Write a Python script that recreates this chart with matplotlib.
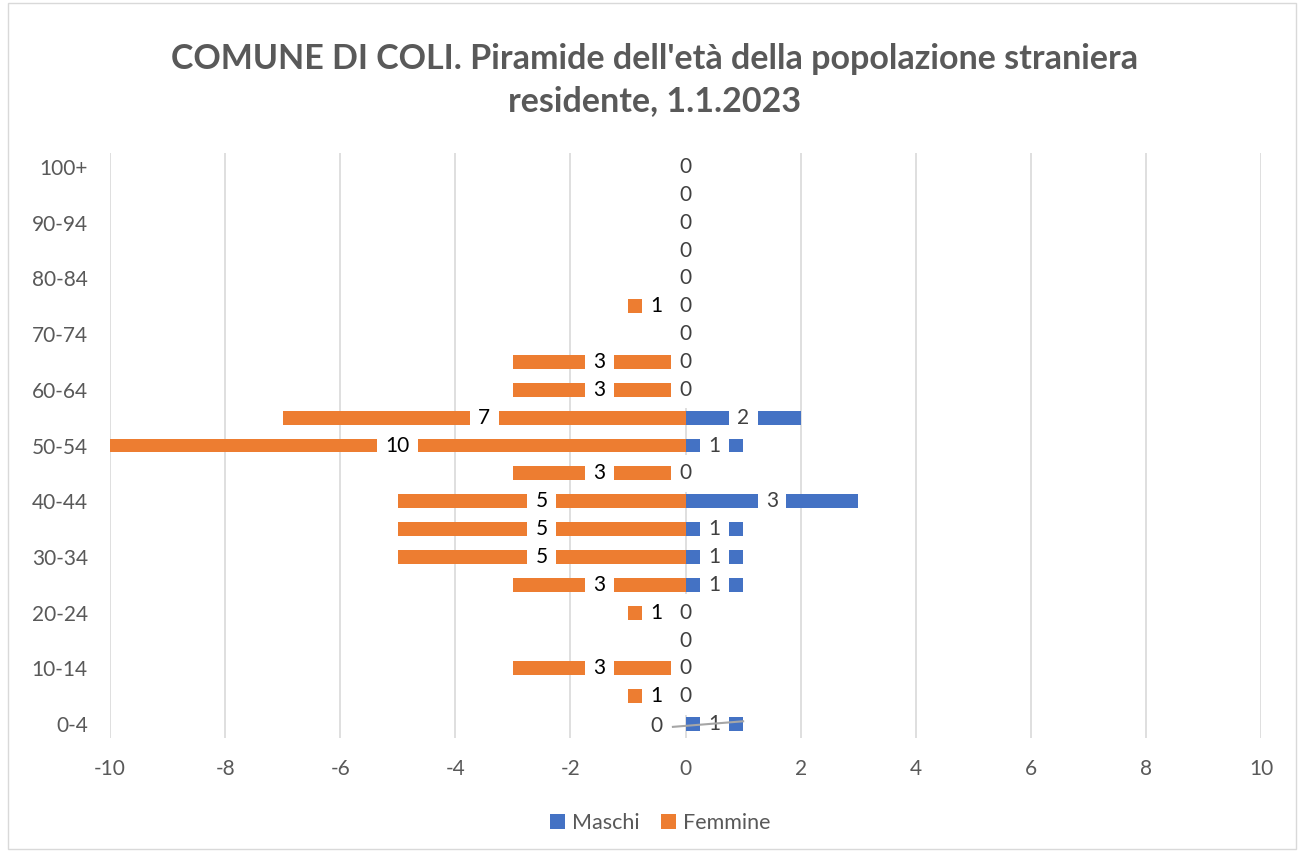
import matplotlib.pyplot as plt
from matplotlib.patches import Rectangle

eta = ['0-4', '5-9', '10-14', '15-19', '20-24', '25-29', '30-34', '35-39',
       '40-44', '45-49', '50-54', '55-59', '60-64', '65-69', '70-74',
       '75-79', '80-84', '85-89', '90-94', '95-99', '100+']
maschi = [1, 0, 0, 0, 0, 1, 1, 1, 3, 0, 1, 2, 0, 0, 0, 0, 0, 0, 0, 0, 0]
femmine = [0, 1, 3, 0, 1, 3, 5, 5, 5, 3, 10, 7, 3, 3, 0, 1, 0, 0, 0, 0, 0]

blu = '#4472C4'
arancio = '#ED7D31'
grigio = '#595959'

plt.rcParams['font.family'] = ['Lato', 'DejaVu Sans']
plt.rcParams['axes.unicode_minus'] = False

fs = 15

fig = plt.figure(figsize=(13.04, 8.52), dpi=100)
ax = fig.add_axes([0.0844, 0.1338, 0.8827, 0.6866])

y = list(range(len(eta)))
ax.barh(y, maschi, height=0.5, color=blu, label='Maschi', zorder=2)
ax.barh(y, [-v for v in femmine], height=0.5, color=arancio, label='Femmine', zorder=2)

box = dict(boxstyle='square,pad=0.4', fc='white', ec='none')
for i in y:
    # etichette maschi
    if maschi[i] == 0:
        ax.text(0, i, '0', ha='center', va='center', fontsize=fs, color='#404040',
                bbox=box, zorder=4)
    else:
        ax.text(maschi[i] / 2, i, str(maschi[i]), ha='center', va='center',
                fontsize=fs, color='#404040', bbox=box, zorder=4)
    # etichette femmine
    if femmine[i] != 0:
        ax.text(-femmine[i] / 2, i, str(femmine[i]), ha='center', va='center',
                fontsize=fs, color='black', bbox=box, zorder=4)

# etichetta 0 femmine spostata con linea guida
ax.plot([-0.22, 1.0], [-0.1, 0.1], color='#A6A6A6', lw=1.5, zorder=5)
ax.text(-0.5, -0.08, '0', ha='center', va='center', fontsize=fs, color='#404040', zorder=5)

ax.set_xlim(-10, 10)
ax.set_ylim(-0.5, 20.5)
ax.set_xticks(range(-10, 11, 2))
ax.set_yticks(y[::2])
ax.set_yticklabels(eta[::2])
ax.tick_params(axis='both', length=0, labelsize=fs, labelcolor=grigio)
ax.tick_params(axis='x', pad=15)
ax.tick_params(axis='y', pad=16)
ax.grid(axis='x', color='#D9D9D9', lw=1.2, zorder=0)
ax.set_axisbelow(True)
for s in ax.spines.values():
    s.set_visible(False)

fig.text(0.502, 0.906, "COMUNE DI COLI. Piramide dell'età della popolazione straniera\nresidente, 1.1.2023",
         ha='center', va='center', fontsize=24.5, fontweight='bold', color=grigio,
         linespacing=1.4)

ax.legend(loc='center', bbox_to_anchor=(0.478, -0.145), ncol=2, frameon=False,
          fontsize=15.5, labelcolor=grigio, handlelength=0.7, handleheight=0.7,
          handletextpad=0.3, columnspacing=1.0)

fig.patches.append(Rectangle((0.006, 0.004), 0.988, 0.992, transform=fig.transFigure,
                             fill=False, ec='#D9D9D9', lw=1))

fig.savefig('out.png', dpi=100)
